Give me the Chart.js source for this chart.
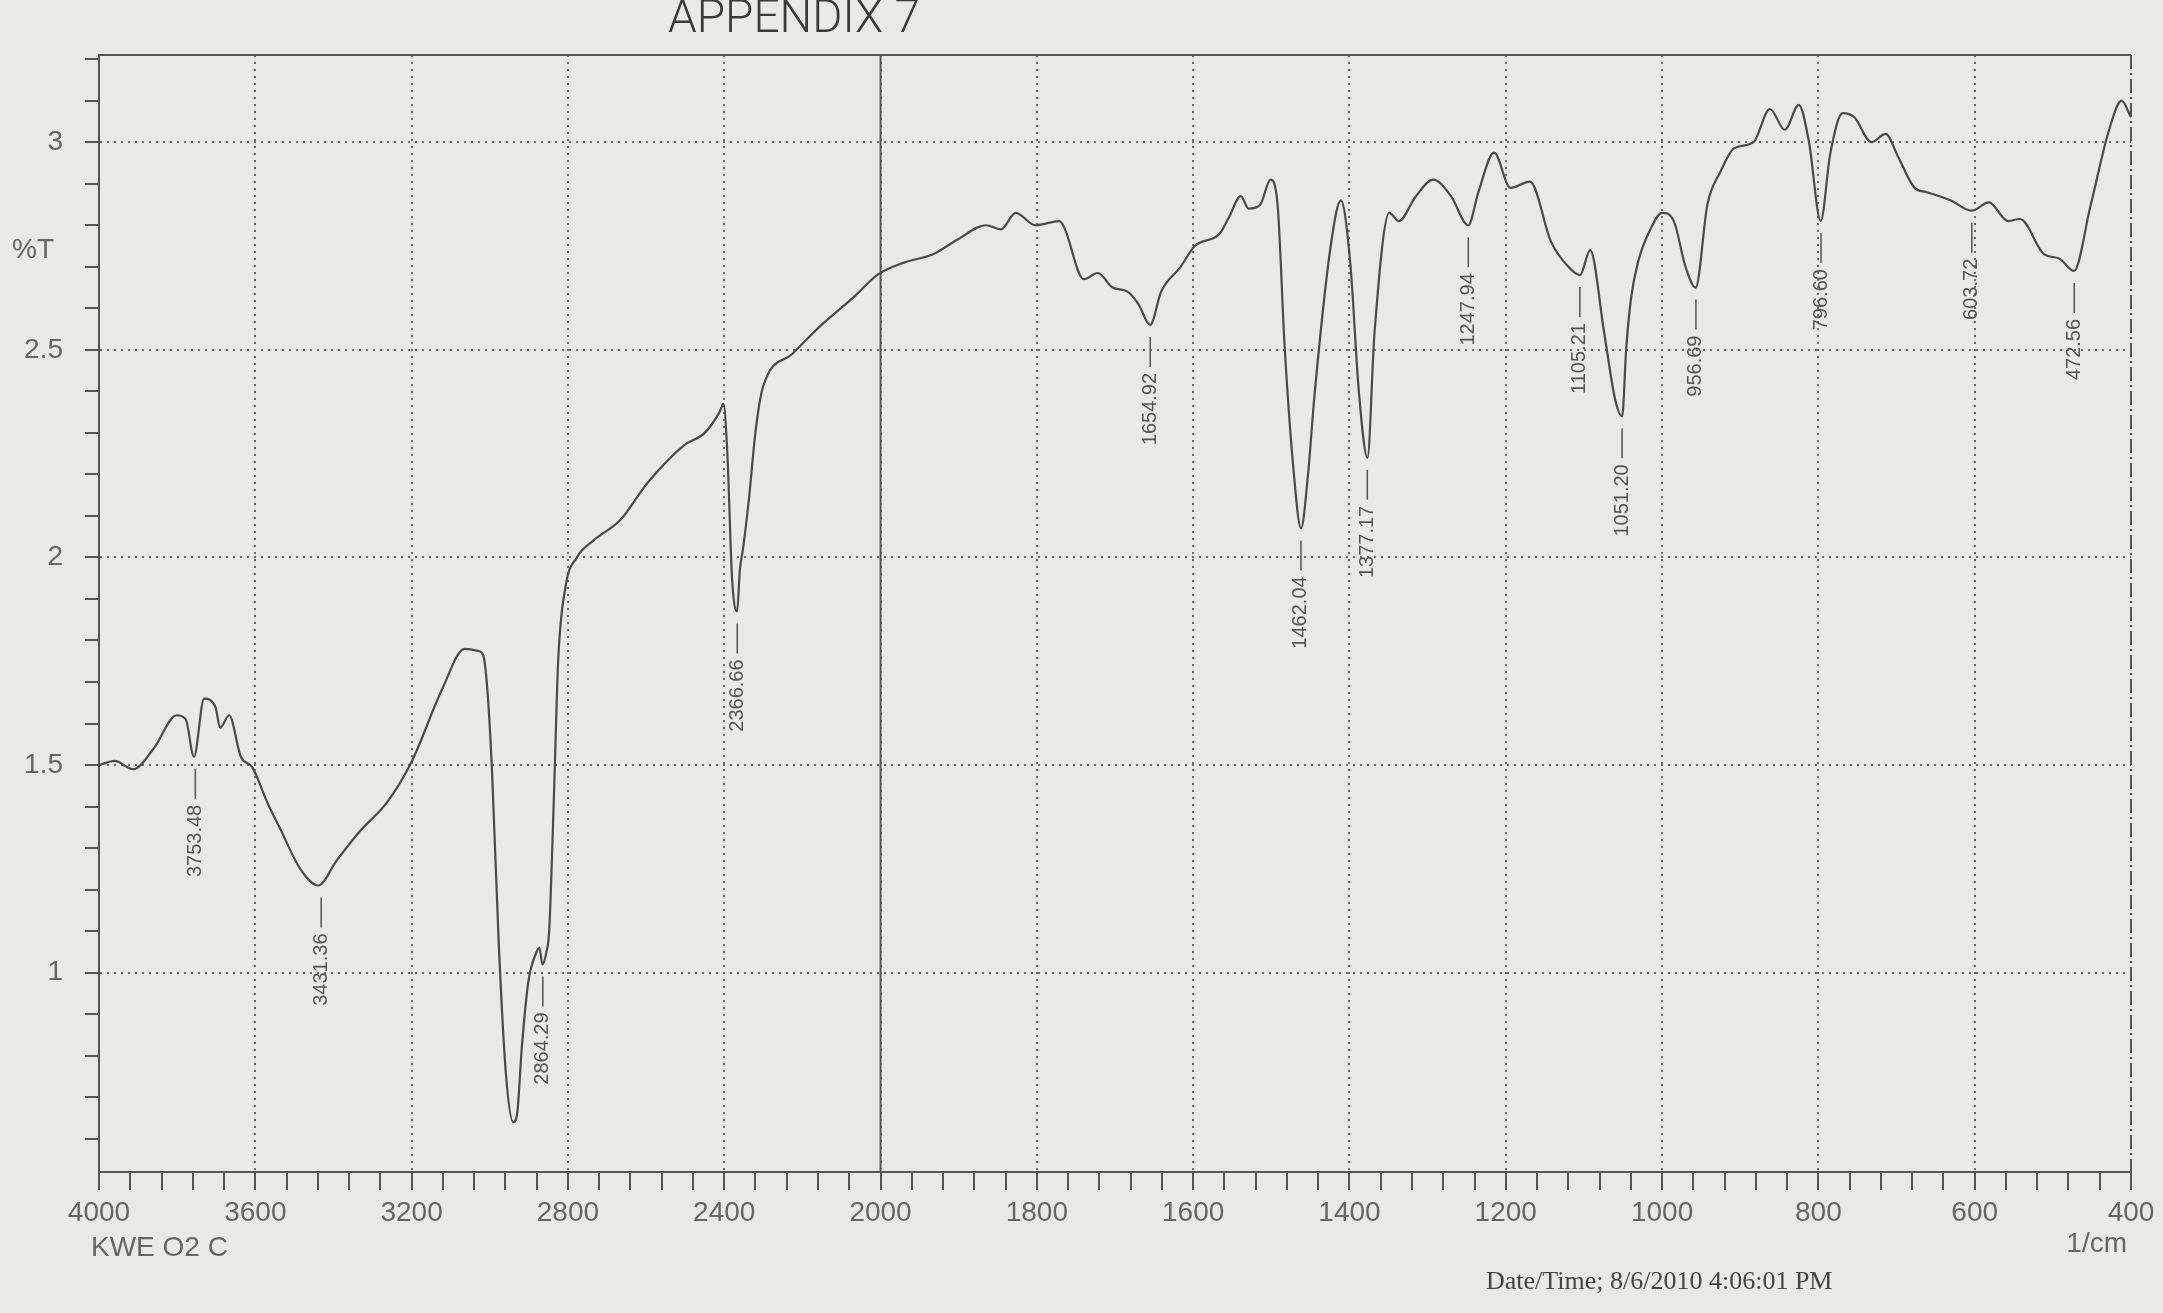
<!DOCTYPE html>
<html>
<head>
<meta charset="utf-8">
<script src="https://cdn.jsdelivr.net/npm/chart.js@4.4.1/dist/chart.umd.min.js"></script>
<style>
  html, body { margin: 0; padding: 0; background: #e9e9e6; }
  #wrap { width: 2163px; height: 1313px; }
</style>
</head>
<body>
<div id="wrap"><canvas id="irChart" width="2163" height="1313"></canvas></div>
<script>
// spectrum (wavenumber 1/cm, %T)
const wavenumbers = [
  4000, 3960, 3912, 3860, 3801, 3778, 3757, 3731, 3702, 3690, 3667, 3637, 3608, 3567, 3538,
  3485, 3439, 3392, 3333, 3263, 3199, 3123, 3064, 3030, 3017, 3006, 2994, 2977, 2959, 2940,
  2930, 2918, 2901, 2880, 2873, 2865, 2855, 2848, 2836, 2825, 2806, 2777, 2736, 2666, 2596,
  2503, 2450, 2412, 2402, 2392, 2380, 2367, 2360, 2352, 2338, 2319, 2301, 2226, 2151, 2065,
  2009, 1970, 1933, 1902, 1865, 1846, 1827, 1802, 1771, 1765, 1740, 1722, 1703, 1684, 1670,
  1655, 1641, 1616, 1598, 1566, 1554, 1539, 1529, 1514, 1501, 1492, 1483, 1472, 1462, 1453,
  1445, 1424, 1411, 1399, 1388, 1377, 1368, 1349, 1337, 1315, 1293, 1270, 1248, 1235, 1215,
  1194, 1169, 1142, 1120, 1105, 1092, 1074, 1060, 1051, 1046, 1040, 1031, 1015, 1000, 985,
  970, 957, 942, 925, 908, 883, 862, 843, 825, 812, 797, 785, 769, 754, 732,
  714, 698, 677, 662, 631, 604, 582, 557, 542, 511, 492, 473, 452, 428, 412, 400
];
const transmittance = [
  1.50, 1.51, 1.49, 1.54, 1.62, 1.61, 1.52, 1.66, 1.64, 1.59, 1.62, 1.52, 1.495, 1.405, 1.35,
  1.25, 1.21, 1.27, 1.34, 1.41, 1.51, 1.68, 1.78, 1.775, 1.765, 1.68, 1.48, 1.07, 0.76, 0.64,
  0.66, 0.82, 0.98, 1.05, 1.06, 1.02, 1.05, 1.10, 1.42, 1.75, 1.93, 2.00, 2.04, 2.09, 2.18,
  2.27, 2.30, 2.35, 2.37, 2.25, 1.95, 1.87, 1.97, 2.02, 2.13, 2.31, 2.41, 2.49, 2.56, 2.63,
  2.68, 2.71, 2.73, 2.765, 2.80, 2.79, 2.83, 2.80, 2.81, 2.795, 2.67, 2.685, 2.65, 2.64, 2.61,
  2.56, 2.64, 2.70, 2.75, 2.78, 2.82, 2.87, 2.84, 2.85, 2.91, 2.85, 2.51, 2.22, 2.07, 2.20,
  2.385, 2.75, 2.86, 2.71, 2.40, 2.24, 2.54, 2.83, 2.81, 2.87, 2.91, 2.87, 2.80, 2.88, 2.975,
  2.89, 2.905, 2.76, 2.70, 2.68, 2.74, 2.54, 2.38, 2.34, 2.50, 2.62, 2.71, 2.79, 2.83, 2.81,
  2.70, 2.65, 2.85, 2.93, 2.985, 3.00, 3.08, 3.03, 3.09, 3.00, 2.81, 2.97, 3.07, 3.06, 3.00,
  3.02, 2.965, 2.89, 2.88, 2.86, 2.835, 2.855, 2.81, 2.815, 2.73, 2.72, 2.69, 2.845, 3.03, 3.10, 3.06
];

// peak picks printed on the chart
const peakPositions = [3753.48, 3431.36, 2864.29, 2366.66, 1654.92, 1462.04, 1377.17,
  1247.94, 1105.21, 1051.20, 956.69, 796.60, 603.72, 472.56];

// x axis: 400 per division above 2000, 200 per division below
const majorTicks = [4000, 3600, 3200, 2800, 2400, 2000, 1800, 1600, 1400, 1200, 1000, 800, 600, 400];
const yTickLabels = [1, 1.5, 2, 2.5, 3];

const inkColor = '#4a4a4a';
const labelColor = '#666';

// scale with the usual IR break at 2000 1/cm
class IrScale extends Chart.LinearScale {
  buildTicks() {
    const ticks = [];
    for (let i = 0; i < majorTicks.length - 1; i++) {
      const a = majorTicks[i], b = majorTicks[i + 1];
      for (let k = 0; k < 5; k++) {
        ticks.push({ value: a - (a - b) * k / 5, major: k === 0 });
      }
    }
    ticks.push({ value: 400, major: true });
    return ticks;
  }
  getPixelForValue(v) {
    const u = v >= 2000 ? (4000 - v) / 400 : 5 + (2000 - v) / 200;
    return this.getPixelForDecimal(u / 13);
  }
  getValueForPixel(p) {
    const u = this.getDecimalForPixel(p) * 13;
    return u <= 5 ? 4000 - 400 * u : 2000 - 200 * (u - 5);
  }
}
IrScale.id = 'ir';
IrScale.defaults = { ticks: { callback: v => v } };
Chart.register(IrScale);

function isMajorX(v) { return majorTicks.includes(v); }
function isHalf(v) { return Math.abs(v * 2 - Math.round(v * 2)) < 1e-6; }

const points = wavenumbers.map((w, i) => ({ x: w, y: transmittance[i] }));

const paperPlugin = {
  id: 'paper',
  beforeDraw(chart) {
    const ctx = chart.ctx;
    ctx.save();
    ctx.fillStyle = '#e9e9e6';
    ctx.fillRect(0, 0, chart.width, chart.height);
    ctx.restore();
  }
};

const framePlugin = {
  id: 'frame',
  beforeDatasetsDraw(chart) {
    const { ctx, chartArea: a, scales: { x } } = chart;
    ctx.save();
    ctx.strokeStyle = '#555';
    ctx.lineWidth = 2;
    // solid line at the scale break
    const x2000 = x.getPixelForValue(2000);
    ctx.beginPath();
    ctx.moveTo(x2000, a.top);
    ctx.lineTo(x2000, a.bottom);
    ctx.stroke();
    // top edge
    ctx.beginPath();
    ctx.moveTo(a.left, a.top);
    ctx.lineTo(a.right, a.top);
    ctx.stroke();
    // right edge, dash-dot
    ctx.setLineDash([14, 4, 2, 4]);
    ctx.beginPath();
    ctx.moveTo(a.right, a.top);
    ctx.lineTo(a.right, a.bottom);
    ctx.stroke();
    ctx.restore();
  }
};

const peakPlugin = {
  id: 'peaks',
  afterDatasetsDraw(chart) {
    const { ctx, scales: { x, y } } = chart;
    ctx.save();
    ctx.strokeStyle = '#555';
    ctx.fillStyle = '#555';
    ctx.lineWidth = 1.5;
    ctx.font = '20px "Liberation Sans", Arial, sans-serif';
    ctx.textBaseline = 'middle';
    ctx.textAlign = 'right';
    peakPositions.forEach(p => {
      let vmin = Infinity;
      wavenumbers.forEach((w, i) => {
        if (Math.abs(w - p) <= 15 && transmittance[i] < vmin) vmin = transmittance[i];
      });
      const px = x.getPixelForValue(p);
      const py = y.getPixelForValue(vmin);
      ctx.beginPath();
      ctx.moveTo(px, py + 12);
      ctx.lineTo(px, py + 42);
      ctx.stroke();
      ctx.save();
      ctx.translate(px, py + 48);
      ctx.rotate(-Math.PI / 2);
      ctx.fillText(p.toFixed(2), 0, 0);
      ctx.restore();
    });
    ctx.restore();
  }
};

const textPlugin = {
  id: 'texts',
  afterDraw(chart) {
    const { ctx, chartArea: a, scales: { x, y } } = chart;
    ctx.save();
    ctx.fillStyle = labelColor;
    ctx.textBaseline = 'middle';
    ctx.font = '28px "Liberation Sans", Arial, sans-serif';
    ctx.textAlign = 'left';
    ctx.fillText('%T', 12, y.getPixelForValue(2.74));
    ctx.fillText('KWE O2 C', x.getPixelForValue(4000) - 8, a.bottom + 76);
    ctx.textAlign = 'right';
    ctx.fillText('1/cm', x.getPixelForValue(400) - 4, a.bottom + 72);
    ctx.fillStyle = '#444';
    ctx.textAlign = 'left';
    ctx.font = '26px "Liberation Serif", "Times New Roman", serif';
    ctx.fillText('Date/Time; 8/6/2010 4:06:01 PM', 1486, 1282);
    ctx.font = '300 46px Roboto, "Liberation Sans", sans-serif';
    ctx.fillStyle = '#3a3a3a';
    ctx.fillText('APPENDIX 7', 668, 20);
    ctx.restore();
  }
};

const ctx = document.getElementById('irChart').getContext('2d');
new Chart(ctx, {
  type: 'line',
  data: {
    datasets: [{
      data: points,
      borderColor: inkColor,
      borderWidth: 2.2,
      pointRadius: 0,
      fill: false,
      cubicInterpolationMode: 'monotone'
    }]
  },
  options: {
    responsive: false,
    animation: false,
    events: [],
    layout: { padding: { top: 55, right: 32, left: 0, bottom: 0 } },
    plugins: { legend: { display: false }, tooltip: { enabled: false } },
    scales: {
      x: {
        type: 'ir',
        min: 400,
        max: 4000,
        afterFit: s => { s.height = 141; },
        border: { display: true, color: '#555', width: 2, dash: [2, 5] },
        grid: {
          lineWidth: 2,
          color: c => (isMajorX(c.tick.value) && c.tick.value !== 4000 && c.tick.value !== 400) ? '#6a6a6a' : 'rgba(0,0,0,0)',
          tickColor: '#555',
          tickLength: 18,
          tickWidth: 2
        },
        ticks: {
          autoSkip: false,
          maxRotation: 0,
          padding: 6,
          color: labelColor,
          font: { family: '"Liberation Sans", Arial, sans-serif', size: 28 },
          callback: v => isMajorX(v) ? String(v) : ''
        }
      },
      y: {
        type: 'linear',
        min: 0.52,
        max: 3.21,
        afterFit: s => { s.width = 99; },
        border: { display: true, color: '#555', width: 2, dash: [2, 5] },
        grid: {
          lineWidth: 2,
          color: c => isHalf(c.tick.value) ? '#6a6a6a' : 'rgba(0,0,0,0)',
          tickColor: '#555',
          tickLength: 14,
          tickWidth: 2
        },
        ticks: {
          stepSize: 0.1,
          includeBounds: false,
          padding: 22,
          color: labelColor,
          font: { family: '"Liberation Sans", Arial, sans-serif', size: 28 },
          callback: v => yTickLabels.some(t => Math.abs(t - v) < 1e-6) ? String(Math.round(v * 10) / 10) : ''
        }
      }
    }
  },
  plugins: [paperPlugin, framePlugin, peakPlugin, textPlugin]
});
</script>
</body>
</html>
